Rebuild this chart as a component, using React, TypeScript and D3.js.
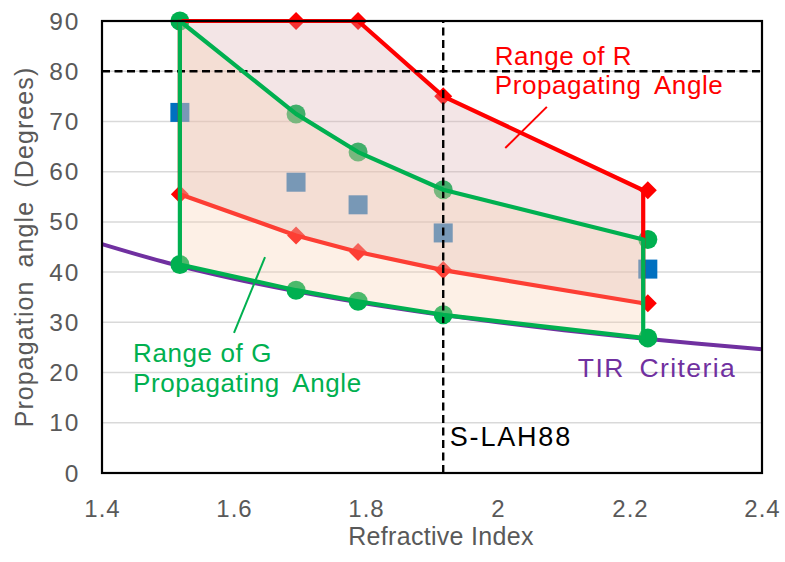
import React from "react";
import * as d3 from "d3";

// Glass refractive indices (x positions of the range outlines)
const glassIndex = [1.518, 1.694, 1.788, 1.917, 2.22];
// x positions of the markers (last column drawn slightly right of the outline)
const markerIndex = [1.518, 1.694, 1.788, 1.917, 2.227];
// Range of R propagating angle (upper / lower bounds)
const rUpper = [90, 90, 90, 75, 56.3];
const rLower = [55.5, 47.3, 44.0, 40.4, 33.8];
// Range of G propagating angle (upper / lower bounds)
const gUpper = [90, 71.5, 63.9, 56.4, 46.5];
const gLower = [41.5, 36.4, 34.2, 31.5, 26.9];
// Blue square series
const blueSquares = [71.8, 57.9, 53.4, 47.8, 40.6];
// TIR criteria curve
const tirIndex = [1.4, 1.5, 1.6, 1.7, 1.8, 1.9, 2.0, 2.1, 2.2, 2.3, 2.4];
const tirAngle = [45.58, 41.81, 38.68, 36.03, 33.75, 31.76, 30.0, 28.44, 27.04, 25.77, 24.62];
// Reference lines
const refIndex = 1.917;
const refAngle = 80;
// Axis ticks
const xTicks = [1.4, 1.6, 1.8, 2.0, 2.2, 2.4];
const xTickLabels = ["1.4", "1.6", "1.8", "2", "2.2", "2.4"];
const yTicks = [0, 10, 20, 30, 40, 50, 60, 70, 80, 90];

const W = 785;
const H = 562;
const M = { left: 102, right: 762, top: 21, bottom: 473 };

export default function App() {
  const x = d3.scaleLinear().domain([1.4, 2.4]).range([M.left, M.right]);
  const y = d3.scaleLinear().domain([0, 90]).range([M.bottom, M.top]);

  const polyPath = (upper: number[], lower: number[]) => {
    const pts: [number, number][] = [];
    glassIndex.forEach((n, i) => pts.push([x(n), y(upper[i])]));
    for (let i = glassIndex.length - 1; i >= 0; i--) pts.push([x(glassIndex[i]), y(lower[i])]);
    return d3.line()(pts) + "Z";
  };

  const tirLine = d3
    .line<number>()
    .x((d, i) => x(tirIndex[i]))
    .y((d) => y(d))
    .curve(d3.curveMonotoneX)(tirAngle) as string;

  const font = "'Liberation Sans', Arial, sans-serif";
  const gray = "#595959";
  const red = "#FF0000";
  const green = "#00B050";
  const purple = "#7030A0";
  const blue = "#0070C0";

  const diamond = (cx: number, cy: number, r: number) =>
    `M${cx},${cy - r}L${cx + r},${cy}L${cx},${cy + r}L${cx - r},${cy}Z`;

  return (
    <svg width={W} height={H} style={{ position: "absolute", left: 0, top: 0 }}>
      <rect x={0} y={0} width={W} height={H} fill="#fff" />
      {/* gridlines */}
      {yTicks.map((t) => (
        <line key={t} x1={M.left} x2={M.right} y1={y(t)} y2={y(t)} stroke="#D9D9D9" strokeWidth={1.5} />
      ))}
      {/* TIR curve */}
      <path d={tirLine} fill="none" stroke={purple} strokeWidth={4} />
      {/* markers (under fills) */}
      {markerIndex.map((n, i) => (
        <rect key={"b" + i} x={x(n) - 9.5} y={y(blueSquares[i]) - 9.5} width={19} height={19} fill={blue} />
      ))}
      {markerIndex.map((n, i) => (
        <g key={"r" + i}>
          <path d={diamond(x(n), y(rUpper[i]), 9)} fill={red} />
          <path d={diamond(x(n), y(rLower[i]), 9)} fill={red} />
        </g>
      ))}
      {markerIndex.map((n, i) => (
        <g key={"g" + i}>
          <circle cx={x(n)} cy={y(gUpper[i])} r={9.5} fill={green} />
          <circle cx={x(n)} cy={y(gLower[i])} r={9.5} fill={green} />
        </g>
      ))}
      {/* R range */}
      <path d={polyPath(rUpper, rLower)} fill="rgb(215,168,172)" fillOpacity={0.3} stroke="none" />
      <path d={polyPath(rUpper, rLower)} fill="none" stroke={red} strokeWidth={4.2} strokeLinejoin="round" />
      {/* G range */}
      <path d={polyPath(gUpper, gLower)} fill="rgb(248,205,172)" fillOpacity={0.3} stroke="none" />
      {/* dashed reference lines */}
      <line x1={M.left} x2={M.right} y1={y(refAngle)} y2={y(refAngle)} stroke="#000" strokeWidth={2.4} strokeDasharray="8,4.5" />
      <line x1={x(refIndex)} x2={x(refIndex)} y1={y(0)} y2={y(90)} stroke="#000" strokeWidth={2.4} strokeDasharray="8,4.5" />
      <path d={polyPath(gUpper, gLower)} fill="none" stroke={green} strokeWidth={4.2} strokeLinejoin="round" />
      {/* plot border */}
      <rect x={M.left} y={M.top} width={M.right - M.left} height={M.bottom - M.top} fill="none" stroke="#000" strokeWidth={2.2} />
      {/* y tick labels */}
      {yTicks.map((t) => (
        <text key={t} x={80.5} y={y(t)} dy="0.35em" textAnchor="end" fontFamily={font} fontSize={24.5} fill={gray} letterSpacing={2}>
          {t}
        </text>
      ))}
      {/* x tick labels */}
      {xTicks.map((t, i) => (
        <text key={t} x={x(t) + 0.5} y={517} textAnchor="middle" fontFamily={font} fontSize={24} fill={gray} letterSpacing={1}>
          {xTickLabels[i]}
        </text>
      ))}
      {/* axis titles */}
      <text x={441} y={545} textAnchor="middle" fontFamily={font} fontSize={25} fill={gray} letterSpacing={0.3}>
        Refractive Index
      </text>
      <text
        transform={`translate(33,${(M.top + M.bottom) / 2}) rotate(-90)`}
        textAnchor="middle"
        fontFamily={font}
        fontSize={25}
        fill={gray}
        letterSpacing={1.1}
        wordSpacing={5}
      >
        Propagation angle (Degrees)
      </text>
      {/* annotations */}
      <line x1={x(2.011)} y1={y(64.7)} x2={x(2.074)} y2={y(72.9)} stroke={red} strokeWidth={2} />
      <text x={x(1.995)} y={y(81.2)} fontFamily={font} fontSize={26} fill={red} letterSpacing={0.6}>
        Range of R
      </text>
      <text x={x(1.995)} y={y(75.5)} fontFamily={font} fontSize={26} fill={red} letterSpacing={0.6} wordSpacing={6}>
        Propagating Angle
      </text>
      <line x1={x(1.6)} y1={y(27.9)} x2={x(1.647)} y2={y(43.0)} stroke={green} strokeWidth={2} />
      <text x={x(1.447)} y={y(22.1)} fontFamily={font} fontSize={26} fill={green} letterSpacing={0.6}>
        Range of G
      </text>
      <text x={x(1.447)} y={y(16.1)} fontFamily={font} fontSize={26} fill={green} letterSpacing={0.6} wordSpacing={6}>
        Propagating Angle
      </text>
      <text x={x(2.121)} y={y(19.1)} fontFamily={font} fontSize={26.5} fill={purple} letterSpacing={1.4} wordSpacing={6}>
        TIR Criteria
      </text>
      <text x={x(1.927)} y={y(5.4)} fontFamily={font} fontSize={27} fill="#000" letterSpacing={1.8}>
        S-LAH88
      </text>
    </svg>
  );
}
